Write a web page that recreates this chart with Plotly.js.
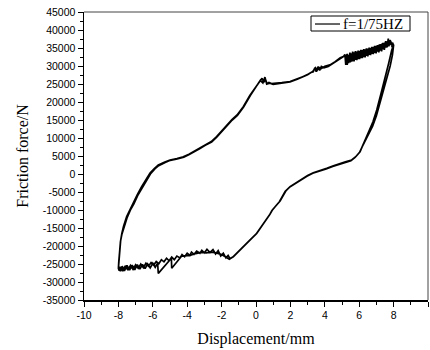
<!DOCTYPE html>
<html>
<head>
<meta charset="utf-8">
<script src="https://cdn.plot.ly/plotly-3.0.1.min.js"></script>
<style>html,body{margin:0;padding:0;background:#fff;}#chart{width:430px;height:350px;}</style>
</head>
<body>
<div id="chart"></div>
<script>
// Cycle 1, loading branch (displacement mm / friction force N)
var upDisp1 = [
  -8.0,-7.97,-7.93,-7.87,-7.8,-7.7,-7.52,-7.3,-7.13,-6.9,
  -6.65,-6.4,-6.16,-5.9,-5.68,-5.3,-5.0,-4.6,-4.23,-3.9,
  -3.64,-3.3,-2.97,-2.6,-2.29,-2.0,-1.7,-1.4,-1.1,-0.74,
  -0.35,0.04,0.22,0.35,0.45,0.55,0.65,0.8,1.0,1.3,
  1.6,1.98,2.4,2.75,3.0,3.2,3.33,3.42,3.5,3.6,
  3.7,3.8,3.95,4.2,4.5,4.88,5.1,5.17,5.22,5.3,
  5.38,5.46,5.54,5.62,5.7,5.78,5.86,5.94,6.02,6.1,
  6.18,6.26,6.34,6.42,6.5,6.58,6.66,6.74,6.82,6.9,
  6.98,7.06,7.14,7.22,7.3,7.38,7.46,7.54,7.62,7.69,
  7.76,7.84,7.92,7.98];
var upForce1 = [
  -26200,-24000,-21000,-18500,-16500,-14500,-11850,-9500,-8060,-5700,
  -3500,-1500,250,1600,2500,3300,3900,4300,4800,5500,
  6200,7100,8060,9000,10370,12000,13600,15100,16400,18700,
  21900,24700,25800,26600,25500,26300,25000,25200,24900,25100,
  25300,25600,26300,27000,27600,28200,28400,29500,28400,29800,
  28800,29900,29500,29900,30800,32100,32700,33200,30300,33400,
  30800,33700,31200,34000,31300,34100,31600,34300,31900,34500,
  32200,34700,32400,34900,32700,35100,33000,35300,33300,35600,
  33500,35800,33800,36100,34100,36400,34500,36900,35200,37600,
  35800,36800,35200,35600];
// Cycle 1, unloading branch
var downDisp1 = [
  7.89,7.7,7.45,7.25,7.02,6.8,6.6,6.44,6.25,6.05,
  5.8,5.56,5.2,4.88,4.5,4.11,3.7,3.33,3.0,2.75,
  2.4,1.98,1.75,1.59,1.4,1.2,0.95,0.81,0.4,0.04,
  -0.25,-0.54,-0.85,-1.12,-1.32,-1.51,-1.62,-1.75,-1.9,-2.05,
  -2.2,-2.35,-2.5,-2.67,-2.85,-3.0,-3.15,-3.26,-3.45,-3.6,
  -3.75,-3.84,-4.0,-4.15,-4.3,-4.42,-4.6,-4.75,-4.9,-5.05,
  -5.2,-5.35,-5.5,-5.65,-5.8,-5.95,-6.1,-6.25,-6.4,-6.55,
  -6.7,-6.85,-7.0,-7.15,-7.3,-7.45,-7.6,-7.75,-7.85,-7.95];
var downForce1 = [
  34400,30500,25500,22000,17800,14500,12300,10370,8200,6200,
  4800,3890,3400,2960,2300,1570,1000,370,-400,-1200,
  -2300,-3500,-4600,-5830,-7500,-8600,-10000,-11200,-14000,-16500,
  -17900,-19250,-20600,-22000,-23000,-23500,-22600,-23300,-22000,-22800,
  -21300,-22200,-21000,-21800,-20900,-21900,-21200,-22000,-21400,-22300,
  -21700,-22600,-22000,-23000,-22400,-23300,-22800,-23800,-23100,-24100,
  -23400,-24400,-23800,-24900,-24300,-25300,-24600,-25600,-24800,-26000,
  -25000,-26200,-25200,-26500,-25400,-26700,-25500,-27000,-25800,-26900];
// Cycle 2, loading branch
var upDisp2 = [
  -8.0,-7.98,-7.95,-7.88,-7.8,-7.68,-7.5,-7.28,-7.1,-6.88,
  -6.62,-6.38,-6.14,-5.88,-5.66,-5.28,-4.98,-4.58,-4.2,-3.88,
  -3.6,-3.28,-2.95,-2.58,-2.27,-1.98,-1.68,-1.38,-1.08,-0.72,
  -0.33,0.06,0.25,0.4,0.52,0.62,0.75,0.9,1.2,1.5,
  1.98,2.4,2.75,3.05,3.3,3.45,3.55,3.65,3.8,4.0,
  4.3,4.6,4.9,5.15,5.28,5.3,5.4,5.48,5.56,5.64,
  5.72,5.8,5.88,5.96,6.04,6.12,6.2,6.28,6.36,6.44,
  6.52,6.6,6.68,6.76,6.84,6.92,7.0,7.08,7.16,7.24,
  7.32,7.4,7.48,7.56,7.64,7.72,7.8,7.88,7.95,8.0];
var upForce2 = [
  -26200,-24500,-21500,-18800,-16800,-14800,-12200,-9800,-8300,-6000,
  -3800,-1800,0,1400,2300,3200,3800,4200,4700,5400,
  6100,7000,8000,8900,10300,11900,13500,15000,16300,18600,
  21800,24600,26000,25300,26900,25000,25400,25100,25200,25400,
  25700,26400,27100,27800,28500,29500,28800,29600,29300,29900,
  30300,31200,32300,32800,33100,30300,33100,31000,33500,31300,
  33800,31700,34000,31900,34200,32200,34400,32500,34600,32800,
  34800,33100,35000,33400,35300,33700,35600,34000,35900,34300,
  36200,34700,36500,35100,36800,35500,37200,35900,36300,35800];
// Cycle 2, unloading branch
var downDisp2 = [
  7.93,7.8,7.62,7.42,7.22,7.0,6.78,6.56,6.38,6.2,
  6.02,5.76,5.52,5.15,4.84,4.46,4.08,3.66,3.3,2.96,
  2.7,2.36,1.94,1.7,1.55,1.36,1.16,0.92,0.78,0.36,
  0.0,-0.3,-0.58,-0.9,-1.15,-1.35,-1.55,-1.7,-1.85,-2.0,
  -2.3,-2.6,-2.9,-3.2,-3.5,-3.84,-4.32,-4.9,-4.92,-5.68,
  -5.72,-5.86,-6.0,-6.15,-6.3,-6.45,-6.6,-6.75,-6.9,-7.05,
  -7.2,-7.35,-7.5,-7.65,-7.78,-7.88,-7.96,-8.0];
var downForce2 = [
  33000,30000,26800,23200,19800,16200,13300,11300,9800,7800,
  6000,4600,3700,3200,2800,2100,1400,800,200,-600,
  -1400,-2500,-3700,-4800,-6000,-7700,-8800,-10200,-11400,-14200,
  -16700,-18100,-19400,-20800,-22200,-23100,-23700,-23300,-22900,-22400,
  -21900,-21700,-21900,-21800,-22100,-22600,-22800,-26200,-23400,-27600,
  -24800,-25900,-24800,-26100,-25000,-26300,-25100,-26400,-25200,-26600,
  -25300,-26700,-25400,-26900,-25600,-27000,-25800,-26200];

var seriesName = "f=1/75HZ";
var xTickVals = [-10,-8,-6,-4,-2,0,2,4,6,8,10];
var yTickVals = [-35000,-30000,-25000,-20000,-15000,-10000,-5000,0,5000,10000,15000,20000,25000,30000,35000,40000,45000];

var trace = {
  x: upDisp1.concat(downDisp1, upDisp2, downDisp2),
  y: upForce1.concat(downForce1, upForce2, downForce2),
  type: 'scatter',
  mode: 'lines',
  name: seriesName,
  line: {color: '#000', width: 1.7},
  showlegend: false
};

var tickFont = {family: 'Liberation Sans, Arial, sans-serif', size: 10.5, color: '#000'};
var titleFont = {family: 'Liberation Serif, Times New Roman, serif', size: 16, color: '#000'};

var layout = {
  width: 430, height: 350,
  margin: {l: 84, r: 2, t: 12, b: 50, pad: 0},
  paper_bgcolor: '#fff', plot_bgcolor: '#fff',
  showlegend: false,
  xaxis: {
    range: [-10, 10], tickvals: xTickVals, ticktext: xTickVals.map(String),
    ticks: 'outside', ticklen: 5, tickwidth: 1, tickcolor: '#000',
    minor: {dtick: 1, ticks: 'outside', ticklen: 3, tickcolor: '#000', tickwidth: 1},
    showgrid: false, zeroline: false, showline: true, linecolor: '#000', linewidth: 1.5,
    tickfont: tickFont,
    title: {text: 'Displacement/mm', font: titleFont, standoff: 12}
  },
  yaxis: {
    range: [-35000, 45000], tickvals: yTickVals, ticktext: yTickVals.map(String),
    ticks: 'outside', ticklen: 5, tickwidth: 1, tickcolor: '#000',
    minor: {dtick: 2500, ticks: 'outside', ticklen: 3, tickcolor: '#000', tickwidth: 1},
    showgrid: false, zeroline: false, showline: true, linecolor: '#000', linewidth: 1.5,
    tickfont: tickFont,
    title: {text: 'Friction force/N', font: titleFont, standoff: 10}
  },
  shapes: [
    {type: 'line', xref: 'paper', yref: 'paper', x0: 0, x1: 1, y0: 1, y1: 1, line: {color: '#444', width: 1}},
    {type: 'line', xref: 'paper', yref: 'paper', x0: 1, x1: 1, y0: 0, y1: 1, line: {color: '#444', width: 1}},
    {type: 'rect', xref: 'paper', yref: 'paper', x0: 0.6599, x1: 0.9477, y0: 0.934, y1: 0.9861,
     line: {color: '#000', width: 1}, fillcolor: '#fff', layer: 'above'},
    {type: 'line', xref: 'paper', yref: 'paper', x0: 0.6715, x1: 0.7442, y0: 0.9583, y1: 0.9583,
     line: {color: '#000', width: 1.2}, layer: 'above'}
  ],
  annotations: [
    {xref: 'paper', yref: 'paper', x: 0.747, y: 0.9583, xanchor: 'left', yanchor: 'middle',
     text: seriesName, showarrow: false,
     font: {family: 'Liberation Serif, Times New Roman, serif', size: 15, color: '#000'}}
  ]
};

Plotly.newPlot('chart', [trace], layout, {displayModeBar: false, staticPlot: true});
</script>
</body>
</html>
